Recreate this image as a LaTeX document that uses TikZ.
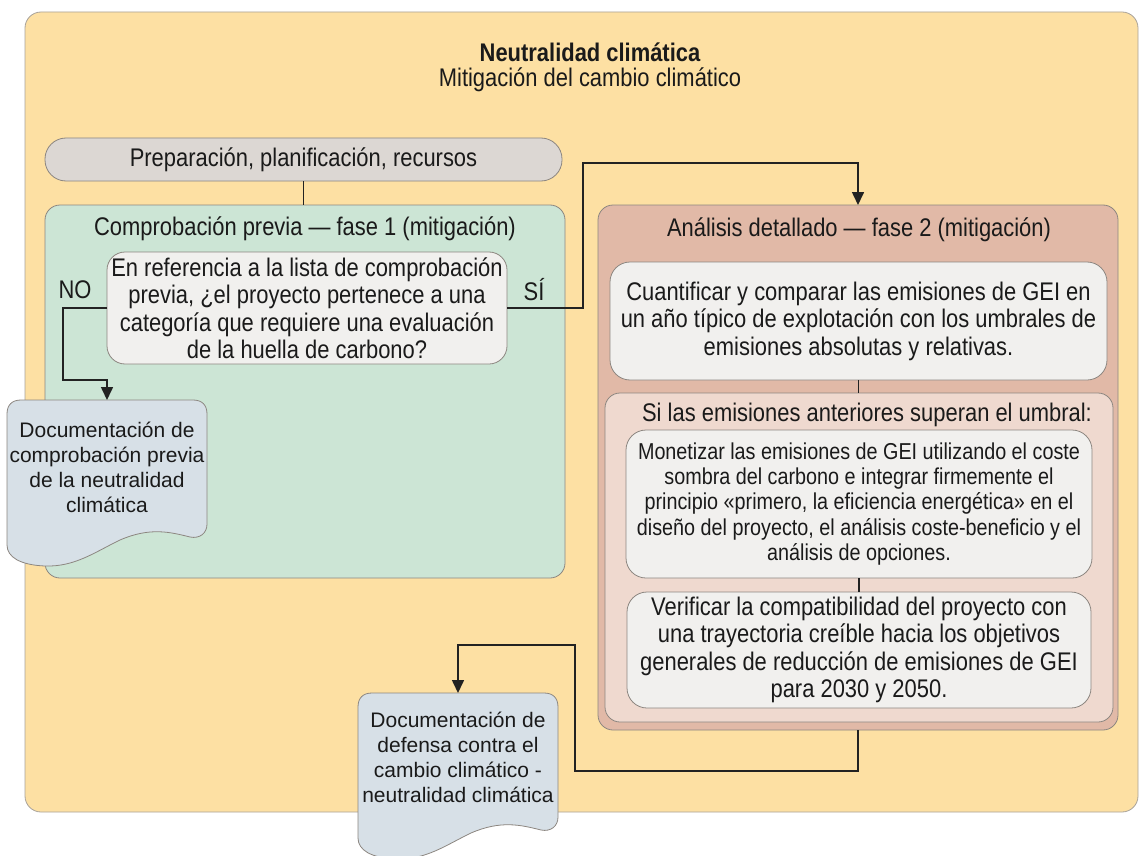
\documentclass[tikz,border=0pt]{standalone}
\usepackage{fontspec}
\setmainfont{Liberation Sans}[FakeStretch=0.86]
\newfontfamily\docfont{Liberation Sans}
\usetikzlibrary{arrows.meta}
\definecolor{outerfill}{HTML}{FDE0A3}
\definecolor{outerline}{HTML}{A8A29A}
\definecolor{boxline}{HTML}{8C8680}
\definecolor{prepfill}{HTML}{DCD7D3}
\definecolor{greenfill}{HTML}{CCE5D5}
\definecolor{lightfill}{HTML}{F1F0EE}
\definecolor{docfill}{HTML}{D7E0E7}
\definecolor{salmonfill}{HTML}{E1B9A7}
\definecolor{pinkfill}{HTML}{EFD9CF}
\definecolor{connc}{HTML}{222222}
\definecolor{txt}{HTML}{1A1A1A}
\begin{document}
\begin{tikzpicture}[x=1pt,y=-1pt,
  every node/.style={inner sep=0pt, outer sep=0pt, text=txt},
  mainfont/.style={font=\fontsize{25.5}{27.5}\selectfont},
  smallfont/.style={font=\fontsize{23}{25.2}\selectfont},
  docfnt/.style={font=\docfont\fontsize{21}{25}\selectfont},
  box/.style={draw=boxline, line width=0.8pt, mainfont, align=center},
  docshape/.style={draw=boxline, line width=0.8pt, fill=docfill},
  conn/.style={draw=connc, line width=1.6pt},
  arr/.style={conn, -{Triangle[length=13pt,width=12pt]}},
]
\useasboundingbox (0,0) rectangle (1140,856);

% outer container
\node[box, draw=outerline, fill=outerfill, rounded corners=16pt,
      minimum width=1113pt, minimum height=800pt] (outer) at (581.5,412) {};
\node[mainfont, font=\fontsize{25.5}{27.5}\selectfont\bfseries] (title) at (590,52) {Neutralidad climática};
\node[mainfont] (subtitle) at (590,80) {Mitigación del cambio climático};

% preparation
\node[box, fill=prepfill, rounded corners=21pt, minimum width=517pt, minimum height=43pt]
  (prep) at (303.5,159.5) {Preparación, planificación, recursos};

% phase 1 container
\node[box, fill=greenfill, rounded corners=15pt, minimum width=520pt, minimum height=373pt]
  (green) at (305,391.5) {};
\node[mainfont] (greentitle) at (305,229) {Comprobación previa — fase 1 (mitigación)};
\node[box, fill=lightfill, rounded corners=18pt, minimum width=400pt, minimum height=112pt]
  (question) at (307,308) {En referencia a la lista de comprobación\\previa, ¿el proyecto pertenece a una\\categoría que requiere una evaluación\\de la huella de carbono?};
\node[mainfont] (nolabel) at (75,290) {NO};
\node[mainfont] (silabel) at (534,290) {SÍ};

% phase 2 container
\node[box, fill=salmonfill, rounded corners=15pt, minimum width=520pt, minimum height=525pt]
  (analysis) at (858,467.5) {};
\node[mainfont] (antitle) at (859,230) {Análisis detallado — fase 2 (mitigación)};
\node[box, fill=lightfill, rounded corners=20pt, minimum width=497pt, minimum height=118pt]
  (cuant) at (858.5,321) {Cuantificar y comparar las emisiones de GEI en\\un año típico de explotación con los umbrales de\\emisiones absolutas y relativas.};
\node[box, fill=pinkfill, rounded corners=15pt, minimum width=508pt, minimum height=329pt]
  (si) at (859,557.5) {};
\node[mainfont] (sititle) at (867,415) {Si las emisiones anteriores superan el umbral:};
\node[box, smallfont, fill=lightfill, rounded corners=20pt, minimum width=466pt, minimum height=148pt]
  (monet) at (859,504) {Monetizar las emisiones de GEI utilizando el coste\\sombra del carbono e integrar firmemente el\\principio «primero, la eficiencia energética» en el\\diseño del proyecto, el análisis coste-beneficio y el\\análisis de opciones.};
\node[box, fill=lightfill, rounded corners=20pt, minimum width=464pt, minimum height=116pt]
  (verif) at (859,650) {Verificar la compatibilidad del proyecto con\\una trayectoria creíble hacia los objetivos\\generales de reducción de emisiones de GEI\\para 2030 y 2050.};

% document 1
\path[docshape] (7,414) .. controls (7,405) and (12,400) .. (21,400) -- (193,400)
  .. controls (202,400) and (207,405) .. (207,414) -- (207,524)
  .. controls (207,533) and (200,539) .. (190,537)
  .. controls (170,532) and (150,527) .. (120,540)
  .. controls (95,552) and (75,567) .. (45,566)
  .. controls (20,565) and (7,557) .. (7,545) -- cycle;
\node[minimum width=200pt, minimum height=166pt] (doc1) at (107,483) {};
\node[docfnt, align=center] (doc1text) at (107,467) {Documentación de\\comprobación previa\\de la neutralidad\\climática};

% document 2
\begin{scope}[shift={(351,293)}]
\path[docshape] (7,414) .. controls (7,405) and (12,400) .. (21,400) -- (193,400)
  .. controls (202,400) and (207,405) .. (207,414) -- (207,524)
  .. controls (207,533) and (200,539) .. (190,537)
  .. controls (170,532) and (150,527) .. (120,540)
  .. controls (95,552) and (75,567) .. (45,566)
  .. controls (20,565) and (7,557) .. (7,545) -- cycle;
\end{scope}
\node[minimum width=200pt, minimum height=166pt] (doc2) at (458,776) {};
\node[docfnt, align=center] (doc2text) at (458,757) {Documentación de\\defensa contra el\\cambio climático -\\neutralidad climática};

% connectors
\coordinate (no1) at (63,308);
\coordinate (no2) at (63,380);
\coordinate (si1) at (583,308);
\coordinate (si2) at (583,163);
\coordinate (b1) at (858,771);
\coordinate (b2) at (575,771);
\coordinate (b3) at (575,645);

\draw[conn] (prep.south) -- (prep.south |- green.north);
\draw[arr] (question.west) -- (no1) -- (no2) -| (doc1.north);
\draw[arr] (question.east) -- (si1) -- (si2) -| (analysis.north);
\draw[conn] (cuant.south) -- (cuant.south |- si.north);
\draw[conn] (monet.south) -- (monet.south |- verif.north);
\draw[arr] (analysis.south) -- (b1) -- (b2) -- (b3) -| (doc2.north);
\end{tikzpicture}
\end{document}
